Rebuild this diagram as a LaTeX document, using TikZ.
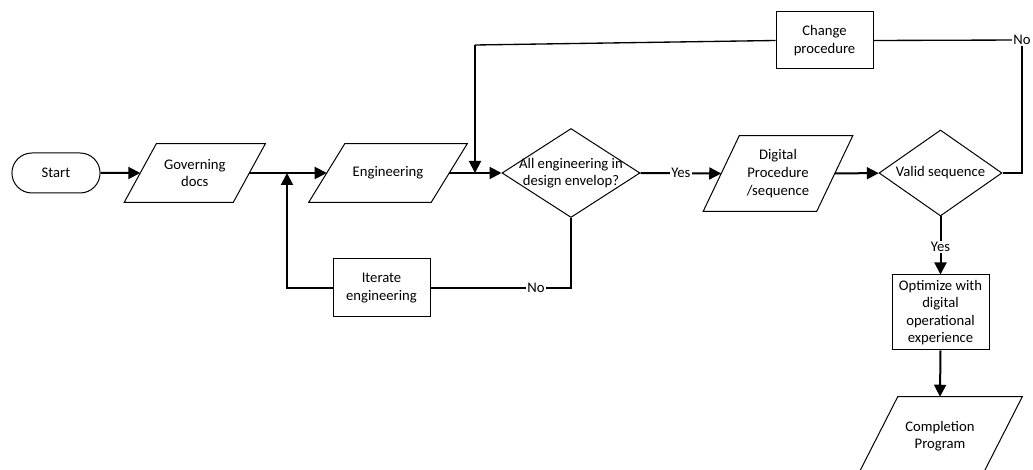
\documentclass[tikz,border=0pt]{standalone}
\usepackage{fontspec}
\setmainfont{Carlito}
\usetikzlibrary{shapes.geometric,shapes.misc,arrows.meta}

% slanted input/output box drawn around a named rectangular node
\newcommand{\slantbox}[2]{%
  \draw[outline] ([xshift=#2/2]#1.north west) -- ([xshift=#2/2]#1.north east)
    -- ([xshift=-#2/2]#1.south east) -- ([xshift=-#2/2]#1.south west) -- cycle;}

\begin{document}
\begin{tikzpicture}[x=0.75pt,y=-0.75pt,
  font=\fontsize{11}{13.2}\selectfont,
  outline/.style={draw, line width=0.75pt},
  txt/.style={align=center, inner sep=0pt},
  procbox/.style={outline, rectangle, align=center, inner sep=1pt},
  iobox/.style={rectangle, align=center, inner sep=1pt},
  decision/.style={outline, diamond, inner sep=0pt},
  terminal/.style={outline, rounded rectangle, align=center},
  conn/.style={line width=1.5pt, -{Triangle[length=9pt,width=9pt]}},
  line/.style={line width=1.5pt},
  thinline/.style={line width=1pt},
  lbl/.style={fill=white, inner sep=1pt}
]
\useasboundingbox (0,0) rectangle (1033,470);

% ---- nodes ----
\node[terminal, minimum width=72.75pt, minimum height=30pt] (start) at (56,173) {Start};

\node[iobox, minimum width=81.4pt, minimum height=43.5pt] (gov) at (194.8,173) {Governing\\docs};
\slantbox{gov}{24pt}

\node[iobox, minimum width=91.5pt, minimum height=43.5pt] (eng) at (388,173) {Engineering};
\slantbox{eng}{27pt}

\node[decision, minimum width=103.5pt, minimum height=66.75pt] (env) at (571,173) {};
\node[txt] at (env) {All engineering in\\design envelop?};

\node[procbox, minimum width=72.75pt, minimum height=43.5pt] (iter) at (381.5,288) {Iterate\\engineering};

\node[iobox, minimum width=84.75pt, minimum height=56.25pt] (dig) at (778,173.5) {Digital\\Procedure\\/sequence};
\slantbox{dig}{27pt}

\node[decision, minimum width=92.25pt, minimum height=64.5pt] (valid) at (940.5,173) {};
\node[txt] at (valid) {Valid sequence};

\node[procbox, minimum width=72.75pt, minimum height=42.75pt] (chg) at (824.5,40.5) {Change\\procedure};

\node[procbox, minimum width=72.75pt, minimum height=56.25pt] (opt) at (940.5,312.5) {Optimize with\\digital\\operational\\experience};

\node[iobox, minimum width=93pt, minimum height=58.5pt] (comp) at (940,436) {Completion\\Program};
\slantbox{comp}{30pt}

% ---- junctions and corners ----
\coordinate (j1) at (287,173);
\coordinate (j1b) at (287,288);
\coordinate (j2) at (475,173);
\coordinate (j2t) at (475,45);
\coordinate (c1) at (571,288);
\coordinate (c2) at (1022,173);
\coordinate (c3) at (1022,40);

% ---- connectors ----
\draw[conn] (start) -- (gov);
\draw[conn] (gov) -- (eng);
\draw[conn] (eng) -- (env);
\draw[conn] (iter.west) -- (j1b) -- (j1);
\draw[line] (env.south) -- (c1) -- node[lbl, pos=0.25] {No} (iter.east);
\draw[conn] (env.east) -- node[lbl] {Yes} (dig.west);
\draw[conn] (dig) -- (valid);
\draw[conn] (valid.south) -- node[lbl, pos=0.53] {Yes} (opt.north);
\draw[conn] (opt.south) -- (comp.north);
\draw[line] (valid.east) -- (c2) -- (c3);
\draw[thinline] (c3) -- (chg.east);
\draw[thinline] (chg.west) -- (j2t);
\draw[conn] (j2t) -- (j2);
\node[lbl] (nolbl) at (c3) {No};
\end{tikzpicture}
\end{document}
